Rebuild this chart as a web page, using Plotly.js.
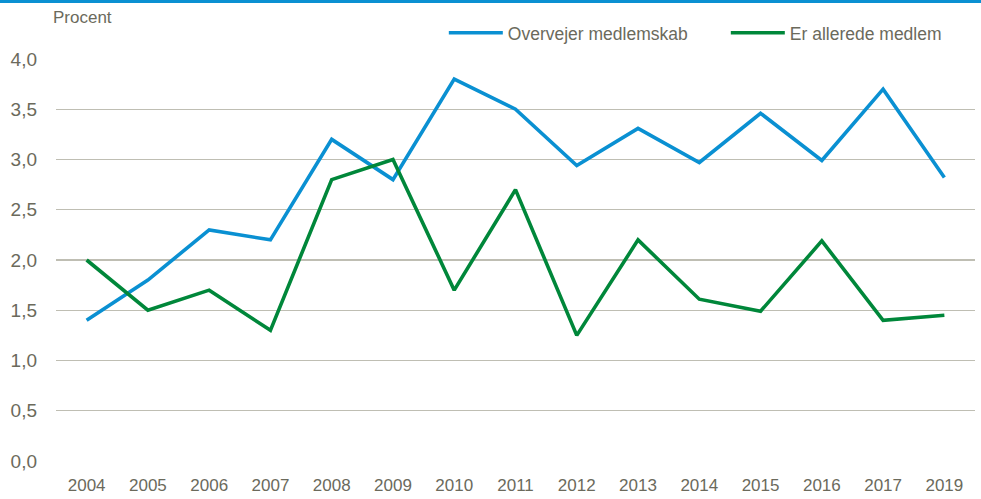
<!DOCTYPE html>
<html>
<head>
<meta charset="utf-8">
<script src="https://cdn.plot.ly/plotly-3.0.1.min.js"></script>
<style>
  html, body { margin: 0; padding: 0; background: #fff; }
  #topbar { width: 981px; height: 3px; background: #0a90d2; }
  #chart { width: 981px; height: 496px; }
</style>
</head>
<body>
<div id="topbar"></div>
<div id="chart"></div>
<script>
const years = ["2004","2005","2006","2007","2008","2009","2010","2011","2012","2013","2014","2015","2016","2017","2019"];
const overvejer = [1.4, 1.8, 2.3, 2.2, 3.2, 2.8, 3.8, 3.5, 2.94, 3.31, 2.97, 3.46, 2.99, 3.7, 2.82];
const allerede = [2.0, 1.5, 1.7, 1.3, 2.8, 3.0, 1.7, 2.7, 1.25, 2.2, 1.61, 1.49, 2.19, 1.4, 1.45];
const seriesNames = ["Overvejer medlemskab", "Er allerede medlem"];
const yTicks = [0, 0.5, 1, 1.5, 2, 2.5, 3, 3.5, 4];

const fontFam = '"Liberation Sans", Arial, sans-serif';
const txtColor = '#6b6a5c';

const traces = [
  { x: years, y: overvejer, name: seriesNames[0], type: 'scatter', mode: 'lines',
    line: { color: '#0a90d2', width: 3.6 } },
  { x: years, y: allerede, name: seriesNames[1], type: 'scatter', mode: 'lines',
    line: { color: '#00873a', width: 3.6 } }
];

const layout = {
  width: 981, height: 496,
  margin: { l: 56, r: 6, t: 56, b: 38, autoexpand: false },
  paper_bgcolor: '#fff', plot_bgcolor: '#fff',
  separators: ',.',
  font: { family: fontFam, size: 17, color: txtColor },
  showlegend: true,
  legend: { orientation: 'h', x: 0.422, xanchor: 'left', y: 1.065, yanchor: 'middle',
            font: { family: fontFam, size: 17.5, color: txtColor }, traceorder: 'normal',
            itemwidth: 54, entrywidth: 213, entrywidthmode: 'pixels',
            bgcolor: 'rgba(0,0,0,0)' },
  xaxis: { type: 'category', range: [-0.5, 14.5], showgrid: false, zeroline: false, showline: false,
           ticks: '', ticklabelstandoff: 12,
           tickfont: { family: fontFam, size: 17, color: txtColor } },
  yaxis: { range: [0, 4], tickvals: yTicks, tickformat: '.1f', showgrid: true,
           gridcolor: '#bfbeb3', gridwidth: 1.3, zeroline: false, showline: false,
           ticks: '', ticklabelstandoff: 18,
           tickfont: { family: fontFam, size: 19, color: txtColor } },
  annotations: [
    { text: 'Procent', xref: 'paper', yref: 'paper', x: -0.0054, y: 1.102, xanchor: 'left', yanchor: 'middle',
      showarrow: false, font: { family: fontFam, size: 17, color: txtColor } }
  ]
};

Plotly.newPlot('chart', traces, layout, { displayModeBar: false, staticPlot: true });
</script>
</body>
</html>
